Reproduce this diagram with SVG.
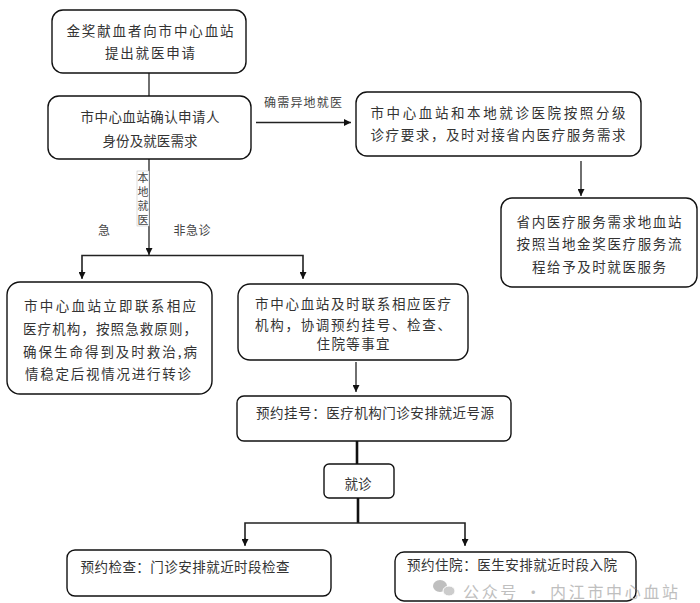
<svg xmlns="http://www.w3.org/2000/svg" width="700" height="603" viewBox="0 0 700 603">
<style>
  .box { fill: #fff; stroke: #111; stroke-width: 1.4; }
  .t { font-family: "Noto Sans CJK SC", "Noto Sans", sans-serif; font-size: 13.5px; fill: #333; text-anchor: middle; }
  .lbl { font-family: "Noto Sans CJK SC", "Noto Sans", sans-serif; font-size: 12px; fill: #444; text-anchor: middle; }
  .vl { font-family: "Noto Sans CJK SC", "Noto Sans", sans-serif; font-size: 11px; fill: #444; writing-mode: vertical-rl; text-anchor: start; }
  .ln { fill: none; stroke: #222; stroke-width: 1.3; }
  .thick { fill: none; stroke: #111; stroke-width: 2.6; }
  .wm { font-family: "Noto Sans CJK SC", "Noto Sans", sans-serif; font-size: 16px; fill: #b4b4b4; }
</style>
<defs>
  <marker id="ah" viewBox="0 0 10 10" refX="10" refY="5" markerWidth="7" markerHeight="7" markerUnits="userSpaceOnUse" orient="auto">
    <path d="M0,0 L10,5 L0,10 z" fill="#111"/>
  </marker>
</defs>
<rect width="700" height="603" fill="#fff"/>

<g id="connectors">
  <line class="ln" x1="149" y1="73" x2="149" y2="96"/>
  <line class="ln" x1="256" y1="122.5" x2="351" y2="122.5" marker-end="url(#ah)"/>
  <line class="ln" x1="581" y1="161" x2="581" y2="196" marker-end="url(#ah)"/>
  <line class="ln" x1="149" y1="159" x2="149" y2="255" marker-end="url(#ah)"/>
  <polyline class="ln" points="82,278 82,255.5 303,255.5 303,278" style="stroke-width:1.6"/>
  <line class="ln" x1="82" y1="270" x2="82" y2="279" marker-end="url(#ah)"/>
  <line class="ln" x1="303" y1="270" x2="303" y2="279" marker-end="url(#ah)"/>
  <line class="ln" x1="356" y1="362" x2="356" y2="392" marker-end="url(#ah)"/>
  <line class="thick" x1="357" y1="441" x2="357" y2="464"/>
  <line class="thick" x1="358" y1="498" x2="358" y2="523"/>
  <polyline class="ln" points="245,545 245,523 465,523 465,545" style="stroke-width:1.6"/>
  <line class="ln" x1="245" y1="538" x2="245" y2="546" marker-end="url(#ah)"/>
  <line class="ln" x1="465" y1="538" x2="465" y2="546" marker-end="url(#ah)"/>
  <text class="lbl" x="303" y="107" textLength="78">确需异地就医</text>
  <rect x="137" y="171" width="12" height="55" fill="#fff" stroke="#bbb" stroke-width="0.5"/>
  <text class="vl" x="143" y="172" textLength="53">本地就医</text>
  <text class="lbl" x="104" y="235">急</text>
  <text class="lbl" x="192" y="235" textLength="37">非急诊</text>
</g>

<g id="n1">
  <rect class="box" x="52" y="10" width="194" height="63" rx="11"/>
  <text class="t" x="150" y="36" textLength="167">金奖献血者向市中心血站</text>
  <text class="t" x="150" y="58" textLength="90">提出就医申请</text>
</g>

<g id="n2">
  <rect class="box" x="48" y="96" width="203" height="63" rx="11"/>
  <text class="t" x="150" y="122" textLength="139">市中心血站确认申请人</text>
  <text class="t" x="150" y="146" textLength="95">身份及就医需求</text>
</g>

<g id="n3">
  <rect class="box" x="356" y="92" width="285" height="64" rx="11"/>
  <text class="t" x="498" y="118" textLength="255">市中心血站和本地就诊医院按照分级</text>
  <text class="t" x="498" y="140" textLength="255">诊疗要求，及时对接省内医疗服务需求</text>
</g>

<g id="n4">
  <rect class="box" x="501" y="198" width="196" height="89" rx="11"/>
  <text class="t" x="599" y="226.5" textLength="165">省内医疗服务需求地血站</text>
  <text class="t" x="599" y="249" textLength="165">按照当地金奖医疗服务流</text>
  <text class="t" x="599" y="272" textLength="134">程给予及时就医服务</text>
</g>

<g id="n5">
  <rect class="box" x="7" y="282" width="205" height="112" rx="13"/>
  <text class="t" x="110" y="311" textLength="172">市中心血站立即联系相应</text>
  <text class="t" x="110" y="334" textLength="174">医疗机构，按照急救原则，</text>
  <text class="t" x="110" y="357" textLength="174">确保生命得到及时救治,病</text>
  <text class="t" x="25" y="379" textLength="166" style="text-anchor:start">情稳定后视情况进行转诊</text>
</g>

<g id="n6">
  <rect class="box" x="238" y="284" width="230" height="76" rx="12"/>
  <text class="t" x="353" y="309" textLength="196">市中心血站及时联系相应医疗</text>
  <text class="t" x="353" y="330" textLength="196">机构，协调预约挂号、检查、</text>
  <text class="t" x="353" y="349" textLength="73">住院等事宜</text>
</g>

<g id="n7">
  <rect class="box" x="237" y="396" width="274" height="45" rx="7"/>
  <text class="t" x="375" y="418" textLength="238">预约挂号：医疗机构门诊安排就近号源</text>
</g>

<g id="n8">
  <rect class="box" x="324" y="464" width="70" height="34" rx="5"/>
  <text class="t" x="358" y="488.5" textLength="27">就诊</text>
</g>

<g id="n9">
  <rect class="box" x="67" y="550" width="264" height="46" rx="8"/>
  <text class="t" x="185" y="572" textLength="209">预约检查：门诊安排就近时段检查</text>
</g>

<g id="n10">
  <rect class="box" x="395" y="552" width="241" height="49" rx="9"/>
  <text class="t" x="512" y="570" textLength="210">预约住院：医生安排就近时段入院</text>
</g>

<g id="watermark" opacity="0.85">
  <ellipse cx="440" cy="586" rx="7" ry="6" fill="#b4b4b4"/>
  <ellipse cx="449" cy="591" rx="6" ry="5" fill="#c4c4c4" stroke="#fff" stroke-width="1"/>
  <text class="wm" x="463" y="598" textLength="215">公众号 · 内江市中心血站</text>
</g>
</svg>
